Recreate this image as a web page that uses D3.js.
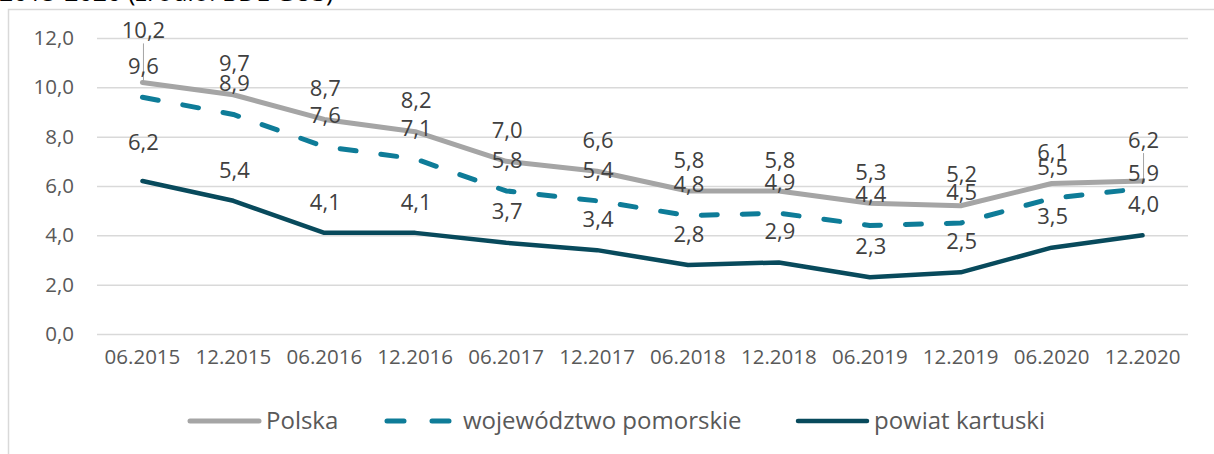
<!DOCTYPE html>
<html>
<head>
<meta charset="utf-8">
<script src="https://cdn.jsdelivr.net/npm/d3@7"></script>
<style>
  body { margin: 0; background: #fff; }
  svg { display: block; font-family: "Open Sans", "Noto Sans", sans-serif; }
</style>
</head>
<body>
<svg width="1214" height="454"></svg>
<script>
// Categories and series values.
var categories = ["06.2015", "12.2015", "06.2016", "12.2016", "06.2017", "12.2017",
  "06.2018", "12.2018", "06.2019", "12.2019", "06.2020", "12.2020"];
var polska = [10.2, 9.7, 8.7, 8.2, 7.0, 6.6, 5.8, 5.8, 5.3, 5.2, 6.1, 6.2];
var pomorskie = [9.6, 8.9, 7.6, 7.1, 5.8, 5.4, 4.8, 4.9, 4.4, 4.5, 5.5, 5.9];
var kartuski = [6.2, 5.4, 4.1, 4.1, 3.7, 3.4, 2.8, 2.9, 2.3, 2.5, 3.5, 4.0];
var yTicks = [0, 2, 4, 6, 8, 10, 12];
var seriesNames = ["Polska", "województwo pomorskie", "powiat kartuski"];

var svg = d3.select("svg");
var fmt = function(v) { return d3.format(".1f")(v).replace(".", ","); };

// Title, mostly cut off at the top edge.
svg.append("text")
  .attr("x", -1)
  .attr("y", 1)
  .attr("font-size", 25)
  .attr("fill", "#000")
  .text("2015-2020 (źródło: BDL GUS)");

// Chart frame (left and top edge visible).
svg.append("path")
  .attr("d", "M8.5,454 V9.5 H1214")
  .attr("fill", "none")
  .attr("stroke", "#d9d9d9")
  .attr("stroke-width", 1.5);

var x = d3.scaleBand().domain(categories).range([97, 1188]);
var y = d3.scaleLinear().domain([0, 12]).range([334, 38]);
var cx = function(i) { return x(categories[i]) + x.bandwidth() / 2; };

// Y axis with gridlines.
var yAxis = svg.append("g")
  .attr("transform", "translate(97,0)")
  .call(d3.axisLeft(y).tickValues(yTicks).tickFormat(fmt)
    .tickSizeInner(-1091).tickSizeOuter(0).tickPadding(23));
yAxis.select(".domain").remove();
yAxis.selectAll("line").attr("stroke", "#d9d9d9").attr("stroke-width", 1.5);
yAxis.selectAll("text")
  .attr("font-size", 20.5)
  .attr("fill", "#595959")
  .attr("font-family", "Open Sans");

// X axis labels.
var xAxis = svg.append("g")
  .attr("transform", "translate(0,334)")
  .call(d3.axisBottom(x).tickSize(0).tickPadding(15));
xAxis.select(".domain").remove();
xAxis.selectAll("text")
  .attr("font-size", 20.5)
  .attr("fill", "#595959")
  .attr("font-family", "Open Sans");

// Series.
var series = [
  { name: seriesNames[0], values: polska, color: "#a5a5a5", width: 5, dash: null },
  { name: seriesNames[1], values: pomorskie, color: "#0e7c98", width: 5, dash: "16,25" },
  { name: seriesNames[2], values: kartuski, color: "#084a5c", width: 4.5, dash: null }
];

var line = d3.line()
  .x(function(d, i) { return cx(i); })
  .y(function(d) { return y(d); });

svg.append("g").selectAll("path")
  .data(series)
  .enter()
  .append("path")
  .attr("d", function(d) { return line(d.values); })
  .attr("fill", "none")
  .attr("stroke", function(d) { return d.color; })
  .attr("stroke-width", function(d) { return d.width; })
  .attr("stroke-dasharray", function(d) { return d.dash; })
  .attr("stroke-linecap", "round")
  .attr("stroke-linejoin", "round");

// Data labels above points; a few were moved by hand in the original.
var nudge = { "0-0": -21, "0-11": -10, "1-11": 16, "2-0": -8 };
var labels = svg.append("g");
series.forEach(function(s, si) {
  s.values.forEach(function(v, i) {
    var dy = -31 + (nudge[si + "-" + i] || 0);
    var ly = y(v) + dy;
    if (nudge[si + "-" + i] && si === 0) {
      // leader line
      labels.append("line")
        .attr("x1", cx(i) + 1).attr("x2", cx(i) + 1)
        .attr("y1", ly + 13).attr("y2", y(v))
        .attr("stroke", "#a5a5a5").attr("stroke-width", 1);
    }
    labels.append("text")
      .attr("x", cx(i) + 1)
      .attr("y", ly)
      .attr("dy", "0.35em")
      .attr("text-anchor", "middle")
      .attr("font-size", 22)
      .attr("fill", "#404040")
      .text(fmt(v));
  });
});

// Legend.
var legend = svg.append("g").attr("transform", "translate(0,421)");
var legendX = [188, 385, 796];
series.forEach(function(s, si) {
  var g = legend.append("g").attr("transform", "translate(" + legendX[si] + ",0)");
  g.append("line")
    .attr("x1", 2).attr("x2", 71)
    .attr("stroke", s.color)
    .attr("stroke-width", s.width)
    .attr("stroke-linecap", "round")
    .attr("stroke-dasharray", s.dash ? "17,28" : null);
  g.append("text")
    .attr("x", 78)
    .attr("dy", "0.35em")
    .attr("font-size", 24)
    .attr("fill", "#595959")
    .text(s.name);
});
</script>
</body>
</html>
